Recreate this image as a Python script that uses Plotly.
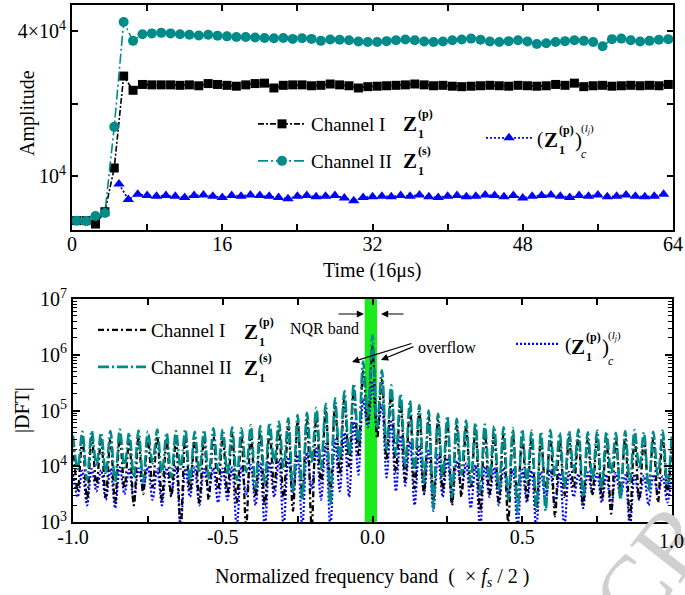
import numpy as np
import plotly.graph_objects as go

# ---------------- data: time-domain amplitudes ----------------
t_ch = [i + 0.5 for i in range(64)]          # sample times (x16 us)
ch2_s = [6530, 6500, 6820, 7020, 16000, 43600, 36400, 38800, 39100, 39300,
         39100, 38800, 38600, 38300, 38600, 38200, 38000, 37800, 37800, 37600,
         37400, 37300, 37400, 37100, 37300, 37100, 36400, 36900, 36800, 36600,
         36200, 36000, 36000, 36300, 36600, 36900, 36600, 36200, 36000, 36200,
         36600, 36900, 37200, 36800, 36200, 36000, 36300, 36600, 36200, 35300,
         35600, 36000, 36300, 36600, 36400, 36000, 34600, 37000, 37200, 36600,
         36200, 36400, 36800, 37000]
ch1_p = [6530, 6530, 6320, 7110, 10800, 26000, 22700, 24000, 23900, 23900,
         23900, 23800, 23900, 23700, 24200, 24000, 23800, 23600, 23900, 24200,
         24300, 23200, 23800, 23900, 23900, 23700, 23800, 24100, 23900, 23700,
         23200, 23500, 23600, 23700, 23800, 23900, 24100, 23900, 23700, 23800,
         23600, 23500, 23600, 23700, 23800, 23700, 23600, 23800, 23700, 23600,
         23700, 24000, 23800, 24300, 23500, 23700, 23800, 23600, 23700, 23800,
         23700, 23800, 23700, 24000]
t_c = list(range(5, 64))
comb_c = [9270, 8000, 8400, 8300, 8250, 8300, 8250, 8150, 8300, 8350,
          8250, 8150, 8300, 8250, 8350, 8300, 8250, 8150, 8050, 8250,
          8300, 8200, 8250, 8300, 8100, 7900, 8150, 8200, 8250, 8200,
          8300, 8250, 8350, 8200, 8150, 8250, 8300, 8200, 8250, 8350,
          8300, 8200, 8300, 8100, 8250, 8300, 8350, 8250, 8150, 8300,
          8250, 8350, 8200, 8250, 8350, 8250, 8200, 8250, 8400]

# ---------------- data: spectra, log10|DFT| at lobe tops / notches ----------------
ch2_peaks = [4.55, 4.62, 4.64, 4.60, 4.63, 4.66, 4.60, 4.64, 4.62, 4.66, 4.60, 4.63, 4.66, 4.62, 4.65, 4.68, 4.66,
             4.70, 4.68, 4.74, 4.72, 4.78, 4.80, 4.86, 4.92, 4.96, 5.05, 5.12, 5.22, 5.35, 5.48, 5.88, 6.35,
             5.72, 5.45, 5.30, 5.18, 5.10, 5.00, 4.94, 4.90, 4.85, 4.82, 4.78, 4.75, 4.72, 4.70, 4.68, 4.66,
             4.64, 4.62, 4.65, 4.60, 4.63, 4.66, 4.61, 4.64, 4.62, 4.60, 4.63, 4.65, 4.61, 4.62, 4.64, 4.60]
ch2_notch = [3.95, 3.75, 4.00, 3.85, 3.70, 3.98, 3.80, 3.72, 4.05, 3.85, 3.80, 3.95, 3.70, 3.88, 3.78, 3.92,
             3.85, 3.75, 3.90, 3.60, 3.70, 4.05, 3.95, 3.55, 3.40, 4.05, 3.95, 3.30, 4.10, 4.20, 4.40, 4.90,
             4.70, 4.30, 4.20, 4.00, 3.90, 3.70, 3.25, 3.80, 3.45, 3.85, 3.70, 3.55, 3.75, 3.55, 3.40, 3.15,
             3.70, 3.25, 3.20, 3.80, 3.60, 3.90, 3.45, 3.75, 3.60, 3.85, 3.40, 3.70, 3.95, 3.55, 3.80, 3.65]
ch1_peaks = [4.45, 4.50, 4.52, 4.48, 4.50, 4.54, 4.47, 4.52, 4.50, 4.53, 4.48, 4.50, 4.54, 4.50, 4.52, 4.55, 4.54,
             4.57, 4.55, 4.60, 4.60, 4.65, 4.68, 4.74, 4.80, 4.84, 4.92, 5.00, 5.10, 5.22, 5.36, 5.70, 6.15,
             5.55, 5.32, 5.18, 5.05, 4.98, 4.88, 4.82, 4.78, 4.73, 4.70, 4.66, 4.62, 4.60, 4.57, 4.55, 4.53,
             4.52, 4.50, 4.53, 4.48, 4.51, 4.54, 4.49, 4.52, 4.50, 4.48, 4.51, 4.53, 4.49, 4.50, 4.52, 4.48]
ch1_notch = [3.55, 3.40, 3.65, 3.45, 3.35, 3.60, 3.30, 3.50, 3.62, 3.40, 3.45, 2.90, 3.55, 3.35, 3.40, 3.58,
             3.50, 3.35, 2.90, 3.45, 3.30, 3.60, 3.40, 3.20, 3.50, 2.90, 3.70, 3.55, 3.85, 4.00, 4.20, 4.80,
             4.50, 4.10, 3.90, 3.75, 3.60, 3.50, 3.40, 3.55, 3.30, 3.45, 3.60, 3.20, 3.50, 3.35, 3.00, 3.45,
             3.40, 3.20, 3.55, 3.10, 3.45, 3.60, 3.30, 3.50, 3.40, 3.15, 3.55, 3.05, 3.40, 3.60, 3.35, 3.50]
comb_peaks = [3.85, 3.92, 3.95, 3.93, 3.96, 3.98, 3.94, 3.96, 3.99, 3.95, 3.97, 4.00, 3.96, 3.98, 3.95, 3.97, 3.96,
              3.98, 4.00, 4.02, 4.05, 4.08, 4.12, 4.16, 4.20, 4.25, 4.32, 4.40, 4.48, 4.60, 4.80, 5.20, 5.50,
              5.10, 4.80, 4.55, 4.45, 4.35, 4.28, 4.20, 4.15, 4.10, 4.05, 4.02, 4.00, 3.98, 3.97, 3.95, 3.94,
              3.92, 3.90, 3.93, 3.88, 3.90, 3.86, 3.89, 3.87, 3.85, 3.88, 3.84, 3.86, 3.83, 3.85, 3.82, 3.84]
comb_notch = [3.45, 3.30, 3.55, 3.40, 3.25, 3.50, 3.35, 3.60, 3.40, 3.30, 3.50, 2.90, 3.45, 3.30, 3.55, 3.35,
              3.40, 2.90, 3.50, 3.30, 2.90, 3.45, 2.90, 3.50, 2.90, 3.60, 3.40, 2.90, 3.55, 3.45, 3.85, 4.70,
              4.60, 3.80, 3.55, 3.65, 3.30, 3.50, 3.20, 3.45, 3.35, 3.55, 3.25, 2.90, 3.45, 3.30, 3.50, 2.90,
              3.35, 2.90, 3.40, 3.30, 2.90, 3.45, 3.25, 3.50, 3.35, 3.20, 3.45, 2.90, 3.40, 3.30, 3.50, 3.35]

nqr_band = [-0.026, 0.015]

# frequency grid: lobe tops on k/32, notches half-way between
f_grid = np.linspace(-1.0, 1.0, 129)


def spectrum(peaks, notches):
    vals = []
    for k in range(len(notches)):
        vals += [peaks[k], notches[k]]
    vals.append(peaks[-1])
    return 10 ** np.array(vals)


# ---------------- page geometry ----------------
W, H = 685, 595
ML, MR, MT, MB = 72, 12, 5, 73
PW, PH = W - ML - MR, H - MT - MB


def px(x):
    return (x - ML) / PW


def py(y):
    return (H - MB - y) / PH


FONT = "Times New Roman, Liberation Serif, serif"
TEAL = "#008b8b"
BLUE = "#0000ff"

fig = go.Figure()

# ---------------- top panel ----------------
fig.add_trace(go.Scatter(
    x=t_ch, y=ch1_p, mode="lines+markers", name="Channel I", legend="legend",
    line=dict(color="black", width=1.6, dash="6px,2px,2px,2px"),
    marker=dict(symbol="square", size=9, color="black"),
    xaxis="x", yaxis="y"))
fig.add_trace(go.Scatter(
    x=t_ch, y=ch2_s, mode="lines+markers", name="Channel II", legend="legend2",
    line=dict(color=TEAL, width=1.6, dash="10px,3px,2px,3px"),
    marker=dict(symbol="circle", size=10, color=TEAL),
    xaxis="x", yaxis="y"))
fig.add_trace(go.Scatter(
    x=t_c, y=comb_c, mode="lines+markers", name="(", legend="legend3",
    line=dict(color=BLUE, width=1.8, dash="2px,2px"),
    marker=dict(symbol="triangle-up", size=10, color=BLUE),
    xaxis="x", yaxis="y"))

# ---------------- bottom panel ----------------
fig.add_trace(go.Scatter(
    x=f_grid, y=spectrum(comb_peaks, comb_notch), mode="lines", name="(", legend="legend6",
    line=dict(color=BLUE, width=2.2, dash="2px,2px", shape="spline", smoothing=0.9),
    xaxis="x2", yaxis="y2"))
fig.add_trace(go.Scatter(
    x=f_grid, y=spectrum(ch1_peaks, ch1_notch), mode="lines", name="Channel I", legend="legend4",
    line=dict(color="black", width=2.3, dash="6px,3px,2px,3px", shape="spline", smoothing=0.9),
    xaxis="x2", yaxis="y2"))
fig.add_trace(go.Scatter(
    x=f_grid, y=spectrum(ch2_peaks, ch2_notch), mode="lines", name="Channel II", legend="legend5",
    line=dict(color=TEAL, width=2.6, dash="11px,3px,2px,3px", shape="spline", smoothing=0.9),
    xaxis="x2", yaxis="y2"))

axis_common = dict(showline=True, linecolor="black", linewidth=2, mirror="allticks",
                   ticks="inside", tickcolor="black", tickwidth=1.5, showgrid=False,
                   zeroline=False, tickfont=dict(family=FONT, size=20, color="black"))

top_dom = [py(230), py(5)]
bot_dom = [0.0, py(299)]

fig.update_layout(
    width=W, height=H, margin=dict(l=ML, r=MR, t=MT, b=MB, autoexpand=False),
    paper_bgcolor="white", plot_bgcolor="white",
    font=dict(family=FONT, size=20, color="black"),
    xaxis=dict(domain=[0, 1], anchor="y", range=[0, 64],
               tickvals=list(range(0, 65, 8)),
               ticktext=["0", "", "16", "", "32", "", "48", "", "64"],
               ticklen=6, ticklabelstandoff=-5, **axis_common),
    yaxis=dict(domain=top_dom, anchor="x", type="log", range=[3.776, 4.71],
               tickvals=[1e4, 2e4, 4e4],
               ticktext=["10<sup>4</sup>", "", "4×10<sup>4</sup>"],
               ticklen=6, **axis_common),
    xaxis2=dict(domain=[px(73), px(672)], anchor="y2", range=[-1, 1],
                tickvals=[-1, -0.75, -0.5, -0.25, 0, 0.25, 0.5, 0.75, 1],
                ticktext=["-1.0", "", "-0.5", "", "0.0", "", "0.5", "", ""],
                ticklen=6, ticklabelstandoff=-4, **axis_common),
    yaxis2=dict(domain=bot_dom, anchor="x2", type="log", range=[3, 7],
                tickvals=[1e3, 1e4, 1e5, 1e6, 1e7],
                ticktext=["10<sup>3</sup>", "10<sup>4</sup>", "10<sup>5</sup>",
                          "10<sup>6</sup>", "10<sup>7</sup>"],
                ticklen=7,
                minor=dict(ticks="inside", ticklen=4, tickcolor="black", tickwidth=1,
                           tickvals=[m * 10 ** e for e in range(3, 7) for m in range(2, 10)]),
                **axis_common),
    showlegend=True,
)

# legends (one entry each)
leg_font = dict(family=FONT, size=19, color="black")


def legend_at(x_line_start, y_center, width=48):
    return dict(x=px(x_line_start), y=py(y_center), xanchor="left", yanchor="middle",
                bgcolor="rgba(0,0,0,0)", font=leg_font, itemwidth=width,
                tracegroupgap=0, borderwidth=0)


fig.update_layout(
    legend=legend_at(253, 124),
    legend2=legend_at(253, 161),
    legend3=legend_at(481, 138, 46),
    legend4=legend_at(93, 330),
    legend5=legend_at(93, 367),
    legend6=legend_at(511, 344, 44),
)

# NQR band highlight
fig.add_shape(type="rect", xref="x2", yref="y2 domain", x0=nqr_band[0], x1=nqr_band[1],
              y0=0, y1=1, fillcolor="#1aeb1a", line=dict(width=0), layer="below")

ann = []


def text(x, y, s, size=20, xanchor="center", yanchor="middle", angle=0, color="black"):
    ann.append(dict(x=px(x), y=py(y), xref="paper", yref="paper", text=s, showarrow=False,
                    xanchor=xanchor, yanchor=yanchor, textangle=angle,
                    font=dict(family=FONT, size=size, color=color)))


def zsym(x, y, sup, sub="1", size=21, small=12):
    text(x, y, "<b>Z</b>", size=size, xanchor="left")
    text(x + 15, y - 10, "<b>" + sup + "</b>", size=small, xanchor="left")
    text(x + 15, y + 10, "<b>" + sub + "</b>", size=small, xanchor="left")


# faint diagonal stamp in the lower right corner
text(652, 566, "CR", size=96, angle=-52, color="#d0d0d0")
# last frequency tick label, kept above the stamp
text(671, 541, "1.0", size=20)

# axis titles
text(27, 113, "Amplitude", angle=-90)
text(372, 270, "Time (16μs)")
text(22, 410, "|DFT|", angle=-90)
text(372, 577, "Normalized frequency band  (  × <i>f</i><sub><i>s</i></sub> / 2 )")

# legend symbols
zsym(401, 124, "(p)")
zsym(401, 161, "(s)")
zsym(542, 140, "(p)")
text(573, 140, ")", size=21, xanchor="left")
text(579, 129, "(<i>l<sub>j</sub></i>)", size=11, xanchor="left")
text(579, 154, "<i>c</i>", size=12, xanchor="left")

zsym(242, 332, "(p)")
zsym(242, 368, "(s)")
zsym(569, 347, "(p)")
text(600, 347, ")", size=21, xanchor="left")
text(606, 336, "(<i>l<sub>j</sub></i>)", size=11, xanchor="left")
text(606, 361, "<i>c</i>", size=12, xanchor="left")

# NQR band and overflow callouts
text(324, 328, "NQR band", size=16)
text(447, 347, "overflow", size=16)


def arrow(x_tip, y_tip, x_tail, y_tail, head=2, size=1.2):
    ann.append(dict(x=px(x_tip), y=py(y_tip), xref="paper", yref="paper",
                    ax=x_tail - x_tip, ay=y_tail - y_tip, axref="pixel", ayref="pixel",
                    text="", showarrow=True, arrowhead=head, arrowsize=size,
                    arrowwidth=1.2, arrowcolor="black"))


arrow(364, 314, 337, 314)
arrow(381, 314, 405, 314)
arrow(352, 362, 413, 343)
arrow(381, 360, 415, 346)

fig.update_layout(annotations=ann)

fig.write_html("out.html")
